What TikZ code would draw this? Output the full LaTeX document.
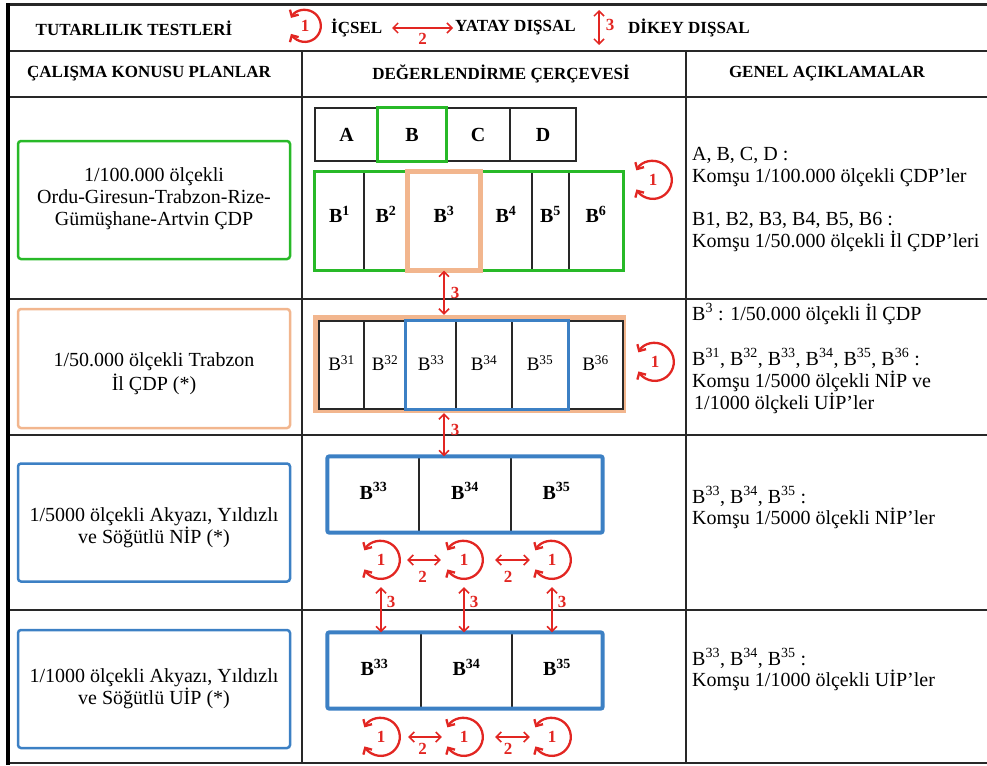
\documentclass[tikz,border=0pt]{standalone}
\usepackage{fontspec}
\setmainfont{Liberation Serif}
\usetikzlibrary{arrows.meta,calc}
\definecolor{gcol}{RGB}{40,185,40}
\definecolor{pcol}{RGB}{242,182,142}
\definecolor{bcol}{RGB}{60,128,196}
\definecolor{rcol}{RGB}{226,38,34}
\definecolor{lcol}{RGB}{40,40,40}
% a red self-loop with a label: name, centre, radius, text
\newcommand\redloop[4]{%
  \node[loopnode, minimum size=#3*2pt] (#1) at (#2) {#4};
  \draw[looparc] (#1.150) arc[start angle=150, end angle=-150, radius=#3pt];}

\begin{document}
\begin{tikzpicture}[x=1pt, y=-1pt,
  redtip/.tip={Straight Barb[length=5pt,width=10pt]},
  body/.style={font=\fontsize{20}{22}\selectfont, inner sep=0pt},
  hdr/.style={font=\fontsize{17}{19}\selectfont\bfseries, inner sep=0pt},
  rule/.style={draw=lcol, line width=2pt},
  planbox/.style={draw, line width=2.5pt, rounded corners=3pt, inner sep=0pt,
    minimum width=272pt, minimum height=118pt},
  plantext/.style={body, align=center},
  cell/.style={draw=lcol, line width=1.3pt, fill=white, inner sep=0pt,
    font=\fontsize{20}{21}\selectfont\bfseries},
  bcell/.style={cell, minimum height=98pt, text depth=13pt},
  mcell/.style={cell, font=\fontsize{19}{20}\selectfont, minimum height=88pt, text depth=4pt},
  ncell/.style={cell, minimum height=75pt, text depth=7pt},
  ucell/.style={cell, minimum height=75pt, text depth=6pt},
  gline/.style={draw=gcol, line width=3pt},
  oline/.style={draw=pcol, line width=4.5pt},
  bline/.style={draw=bcol, line width=4pt, rounded corners=2pt},
  loopnode/.style={circle, inner sep=0pt, text=rcol, font=\fontsize{17}{17}\selectfont\bfseries},
  looparc/.style={draw=rcol, line width=2.3pt, redtip-redtip},
  dbl/.style={draw=rcol, line width=1.5pt, redtip-redtip},
  num/.style={text=rcol, font=\fontsize{17}{17}\selectfont\bfseries, inner sep=1pt},
  rtext/.style={body, anchor=base west},
]
\useasboundingbox (0,0) rectangle (987,765);

% table rules
\draw[line width=3pt, lcol] (6,5) -- (987,5);
\draw[rule, line width=2.6pt] (8,51) -- (987,51);
\draw[rule] (8,97) -- (987,97);
\draw[rule] (8,299) -- (987,299);
\draw[rule] (8,435) -- (987,435);
\draw[rule] (8,610) -- (987,610);
\draw[rule] (8,763) -- (987,763);
\draw[rule] (302,51) -- (302,763);
\draw[rule] (686,51) -- (686,763);
\draw[line width=4pt, black] (8,3.5) -- (8,764.5);

% key row
\node[hdr] (title) at (134,28) {TUTARLILIK TESTLERİ};
\redloop{keyL}{305,26}{16}{1}
\node[hdr, anchor=west] (keyI) at (331,28) {İÇSEL};
\coordinate (k2a) at (392,28);
\coordinate (k2b) at (453,28);
\draw[dbl] (k2a) -- (k2b) node[num, pos=0.5, below=3pt] {2};
\node[hdr, anchor=west] (keyY) at (455,28) {YATAY DIŞSAL};
\coordinate (k3a) at (599,10);
\coordinate (k3b) at (599,45);
\draw[dbl] (k3a) -- (k3b) node[num, pos=0.43, right=5pt] {3};
\node[hdr, anchor=west] (keyD) at (628,28) {DİKEY DIŞSAL};

% column headings
\node[hdr] (h1) at (149,74) {ÇALIŞMA KONUSU PLANLAR};
\node[hdr] (h2) at (501,74) {DEĞERLENDİRME ÇERÇEVESİ};
\node[hdr] (h3) at (827,74) {GENEL AÇIKLAMALAR};

% plans (left column)
\node[planbox, draw=gcol] (p1) at (154,200) {};
\node[plantext] (p1t) at ($(p1.center)+(0,-1)$) {1/100.000 ölçekli\\Ordu-Giresun-Trabzon-Rize-\\Gümüşhane-Artvin ÇDP};
\node[planbox, draw=pcol, minimum height=119pt] (p2) at (154,368.5) {};
\node[plantext] (p2t) at ($(p2.center)+(0,5.5)$) {1/50.000 ölçekli Trabzon\\[2pt]İl ÇDP (*)};
\node[planbox, draw=bcol] (p3) at (154,522.5) {};
\node[plantext] (p3t) at ($(p3.center)+(0,5.5)$) {1/5000 ölçekli Akyazı, Yıldızlı\\ve Söğütlü NİP (*)};
\node[planbox, draw=bcol] (p4) at (154,689) {};
\node[plantext] (p4t) at ($(p4.center)+(0,0)$) {1/1000 ölçekli Akyazı, Yıldızlı\\ve Söğütlü UİP (*)};

% 1/100.000 neighbours
\node[cell, minimum width=63pt, minimum height=53pt] (tA) at (346.5,134.5) {A};
\node[cell, minimum width=68pt, minimum height=53pt] (tB) at (412,134.5) {B};
\node[cell, minimum width=64pt, minimum height=53pt] (tC) at (478,134.5) {C};
\node[cell, minimum width=66pt, minimum height=53pt] (tD) at (543,134.5) {D};
\draw[gline] (tB.north west) rectangle (tB.south east);

% province plans inside B
\node[bcell, minimum width=49pt] (b1) at (339.5,221) {B\textsuperscript{1}};
\node[bcell, minimum width=44pt] (b2) at (386,221) {B\textsuperscript{2}};
\node[bcell, minimum width=72pt] (b3) at (444,221) {B\textsuperscript{3}};
\node[bcell, minimum width=52pt] (b4) at (506,221) {B\textsuperscript{4}};
\node[bcell, minimum width=37pt] (b5) at (550.5,221) {B\textsuperscript{5}};
\node[bcell, minimum width=54pt] (b6) at (596,221) {B\textsuperscript{6}};
\draw[gline] (b1.north west) rectangle (b6.south east);
\draw[oline] (b3.north west) rectangle (b3.south east);
\redloop{lpA}{653,180}{19}{1}

% B3 and its parts
\node[fill=pcol, inner sep=0pt, minimum width=313pt, minimum height=98pt] (ob) at (469.5,364) {};
\node[mcell, minimum width=45pt] (m1) at (341.5,365) {B\textsuperscript{31}};
\node[mcell, minimum width=42pt] (m2) at (385,365) {B\textsuperscript{32}};
\node[mcell, minimum width=50pt] (m3) at (431,365) {B\textsuperscript{33}};
\node[mcell, minimum width=56pt] (m4) at (484,365) {B\textsuperscript{34}};
\node[mcell, minimum width=56pt] (m5) at (540,365) {B\textsuperscript{35}};
\node[mcell, minimum width=55pt] (m6) at (595.5,365) {B\textsuperscript{36}};
\draw[bline, line width=3.5pt, rounded corners=0pt] (m3.north west) rectangle (m5.south east);
\redloop{lpB}{655,362}{19}{1}

\draw[dbl] (b3.south) -- (b3.south |- ob.north) node[num, pos=0.5, right=5pt] {3};

% 1/5000 plans
\node[ncell, minimum width=91pt] (n1) at (373.5,494.5) {B\textsuperscript{33}};
\node[ncell, minimum width=92pt] (n2) at (465,494.5) {B\textsuperscript{34}};
\node[ncell, minimum width=91pt] (n3) at (556.5,494.5) {B\textsuperscript{35}};
\draw[bline] (n1.north west) rectangle (n3.south east);

\draw[dbl] (b3.south |- ob.south) -- (b3.south |- n1.north) node[num, pos=0.39, right=5pt] {3};

\redloop{lpC1}{381,560}{19}{1}
\redloop{lpC2}{464,560}{19}{1}
\redloop{lpC3}{552,560}{19}{1}
\draw[dbl, shorten <=7pt, shorten >=4pt] (lpC1) -- (lpC2) node[num, pos=0.5, below=9pt] {2};
\draw[dbl, shorten <=12pt, shorten >=3pt] (lpC2) -- (lpC3) node[num, pos=0.5, below=9pt] {2};

% 1/1000 plans
\node[ucell, minimum width=93pt] (u1) at (374.5,670.5) {B\textsuperscript{33}};
\node[ucell, minimum width=91pt] (u2) at (466.5,670.5) {B\textsuperscript{34}};
\node[ucell, minimum width=90pt] (u3) at (557,670.5) {B\textsuperscript{35}};
\draw[bline] (u1.north west) rectangle (u3.south east);

\draw[dbl, shorten <=8pt] (lpC1.south) -- (lpC1.south |- u1.north) node[num, pos=0.42, right=4pt] {3};
\draw[dbl, shorten <=8pt] (lpC2.south) -- (lpC2.south |- u2.north) node[num, pos=0.42, right=4pt] {3};
\draw[dbl, shorten <=8pt] (lpC3.south) -- (lpC3.south |- u3.north) node[num, pos=0.42, right=4pt] {3};

\redloop{lpD1}{381,737}{19}{1}
\redloop{lpD2}{464,737}{19}{1}
\redloop{lpD3}{552,737}{19}{1}
\draw[dbl, shorten <=8pt, shorten >=3pt] (lpD1) -- (lpD2) node[num, pos=0.5, below=4pt] {2};
\draw[dbl, shorten <=12pt, shorten >=3pt] (lpD2) -- (lpD3) node[num, pos=0.5, below=4pt] {2};

% notes (right column)
\node[rtext] (r1a) at (692,160) {A, B, C, D :};
\node[rtext] (r1b) at (692,182) {Komşu 1/100.000 ölçekli ÇDP’ler};
\node[rtext] (r1c) at (692,225) {B1, B2, B3, B4, B5, B6 :};
\node[rtext] (r1d) at (692,247) {Komşu 1/50.000 ölçekli İl ÇDP’leri};
\node[rtext] (r2a) at (692,320) {B\textsuperscript{3} : 1/50.000 ölçekli İl ÇDP};
\node[rtext] (r2b) at (692,365) {B\textsuperscript{31}, B\textsuperscript{32}, B\textsuperscript{33}, B\textsuperscript{34}, B\textsuperscript{35}, B\textsuperscript{36} :};
\node[rtext] (r2c) at (692,387) {Komşu 1/5000 ölçekli NİP ve};
\node[rtext] (r2d) at (694,409) {1/1000 ölçkeli UİP’ler};
\node[rtext] (r3a) at (692,503) {B\textsuperscript{33}, B\textsuperscript{34}, B\textsuperscript{35} :};
\node[rtext] (r3b) at (692,524) {Komşu 1/5000 ölçekli NİP’ler};
\node[rtext] (r4a) at (692,665) {B\textsuperscript{33}, B\textsuperscript{34}, B\textsuperscript{35} :};
\node[rtext] (r4b) at (692,686) {Komşu 1/1000 ölçekli UİP’ler};
\end{tikzpicture}
\end{document}
